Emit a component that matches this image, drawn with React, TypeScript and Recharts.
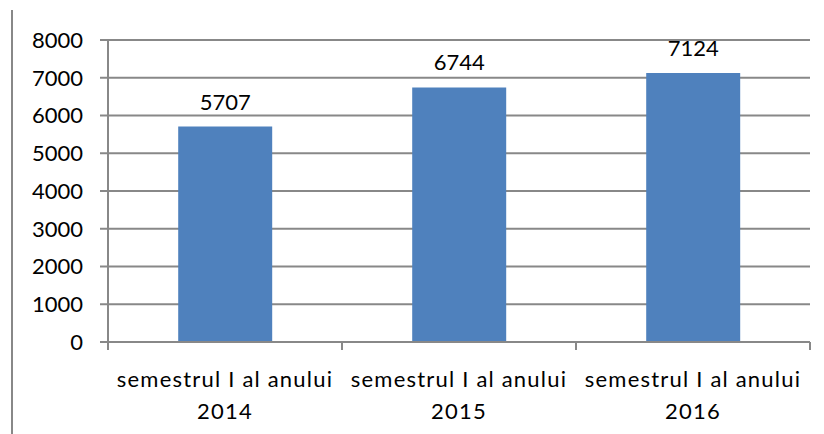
import { BarChart, Bar, XAxis, YAxis, CartesianGrid, LabelList } from 'recharts';

const categories = ['semestrul I al anului 2014', 'semestrul I al anului 2015', 'semestrul I al anului 2016'];
const values = [5707, 6744, 7124];
const yTicks = [0, 1000, 2000, 3000, 4000, 5000, 6000, 7000, 8000];

const data = categories.map((name, i) => ({ name, value: values[i] }));

const FONT = 'Lato, "Open Sans", sans-serif';
const AXIS = '#888';

function CategoryTick(props: any) {
  const { x, y, payload, width, visibleTicksCount, index } = props;
  const text: string = payload.value;
  const idx = text.lastIndexOf(' ');
  const line1 = text.slice(0, idx);
  const line2 = text.slice(idx + 1);
  const band = Number(width) / (visibleTicksCount || 1);
  const isLast = index === (visibleTicksCount || 1) - 1;
  return (
    <g>
      <line x1={x - band / 2} x2={x - band / 2} y1={y} y2={y + 8} stroke={AXIS} strokeWidth={2} />
      {isLast && <line x1={x + band / 2} x2={x + band / 2} y1={y} y2={y + 8} stroke={AXIS} strokeWidth={2} />}
      <text x={x} y={y} textAnchor="middle" fill="#000" fontSize={22} fontFamily={FONT} letterSpacing={1.2}>
        <tspan x={x} dy={45}>{line1}</tspan>
        <tspan x={x} dy={32}>{line2}</tspan>
      </text>
    </g>
  );
}

export default function App() {
  return (
    <div style={{ position: 'absolute', left: 0, top: 0, width: 824, height: 434, background: '#fff' }}>
      <div
        style={{
          position: 'absolute',
          left: 11,
          top: 10,
          width: 0,
          height: 424,
          borderLeft: '2px solid #888',
        }}
      />
      <BarChart
        width={824}
        height={434}
        data={data}
        margin={{ top: 40, right: 14, bottom: 0, left: 0 }}
        barCategoryGap="30%"
      >
        <CartesianGrid horizontal vertical={false} stroke={AXIS} strokeWidth={2} />
        <XAxis
          dataKey="name"
          height={92}
          tickLine={false}
          tickSize={0}
          tickMargin={0}
          axisLine={{ stroke: AXIS, strokeWidth: 2 }}
          interval={0}
          tick={<CategoryTick />}
        />
        <YAxis
          width={108}
          domain={[0, 8000]}
          ticks={yTicks}
          interval={0}
          tickSize={8}
          tickMargin={17}
          tickLine={{ stroke: AXIS, strokeWidth: 2 }}
          axisLine={{ stroke: AXIS, strokeWidth: 2 }}
          tick={{ fill: '#000', fontSize: 22, fontFamily: FONT }}
        />
        <Bar dataKey="value" fill="#4f81bd" isAnimationActive={false}>
          <LabelList dataKey="value" position="top" offset={17} fill="#000" fontSize={22} fontFamily={FONT} />
        </Bar>
      </BarChart>
    </div>
  );
}
